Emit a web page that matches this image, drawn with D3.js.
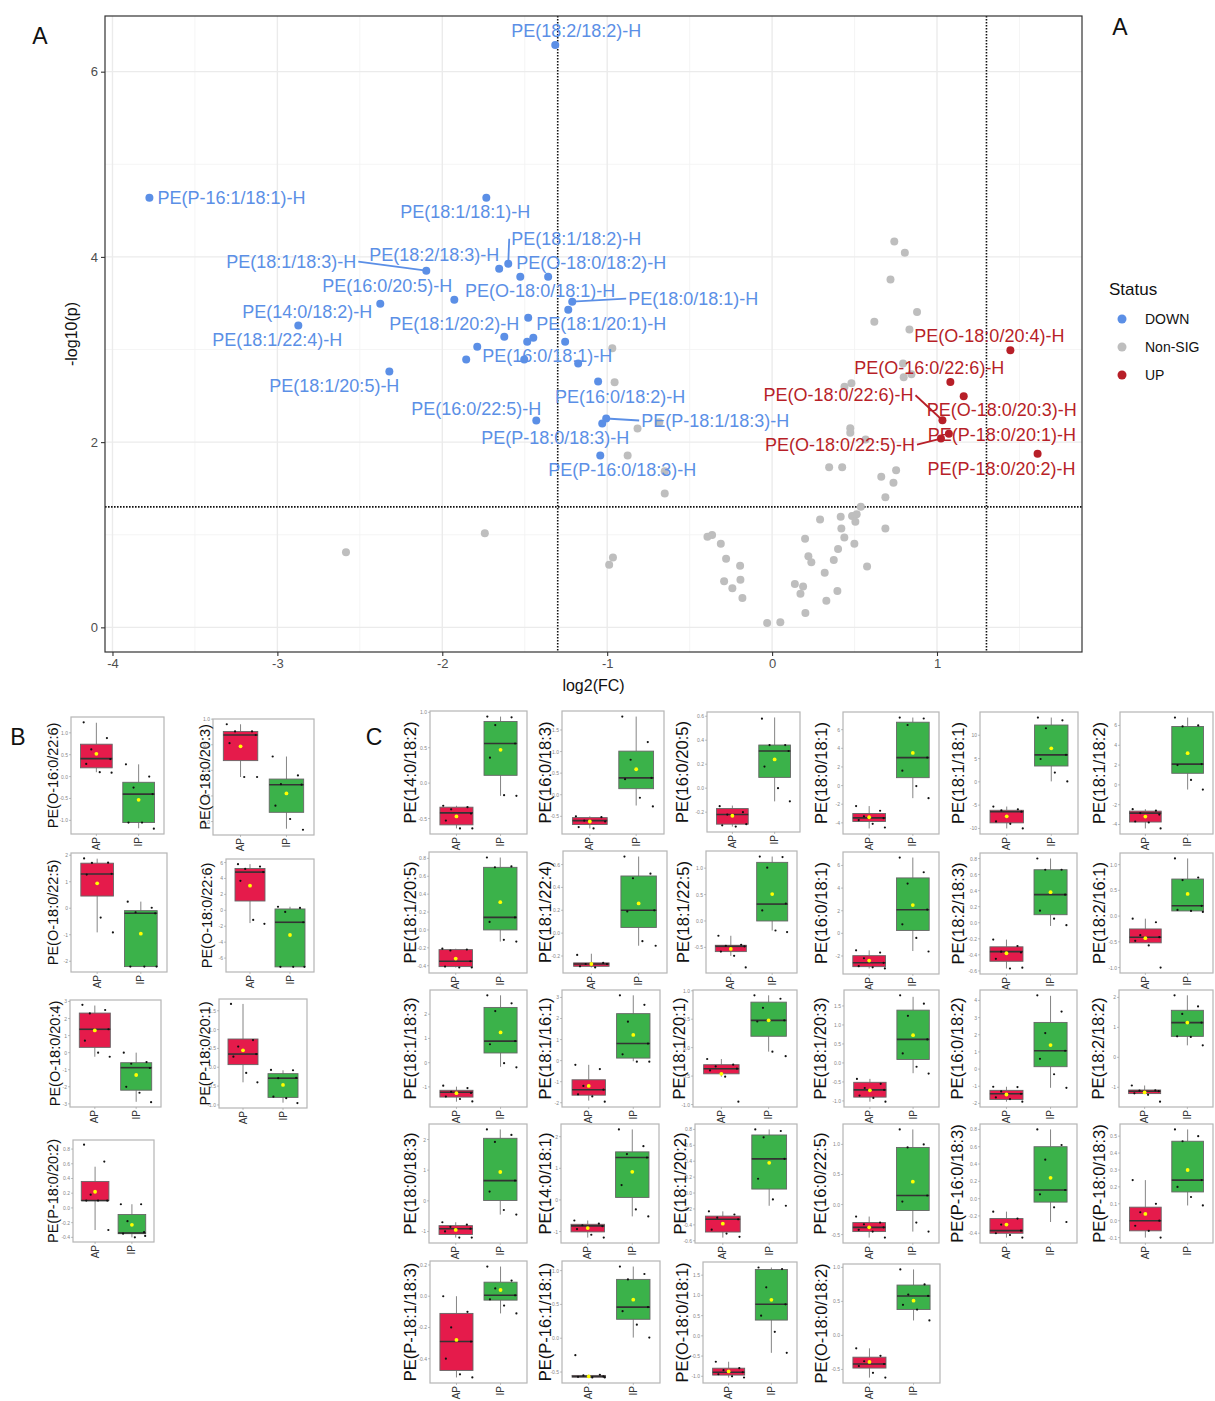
<!DOCTYPE html>
<html lang="en">
<head>
<meta charset="UTF-8">
<title>Volcano plot and lipid box plots</title>
<script src="https://d3js.org/d3.v7.min.js"></script>
<style>
  body { margin: 0; background: #fff; }
  svg { font-family: "Liberation Sans", Arial, sans-serif; }
</style>
</head>
<body>
<svg width="1215" height="1401"></svg>
<script>
// ---------- volcano data ----------
const downNames = ["PE(P-16:1/18:1)-H", "PE(18:2/18:2)-H", "PE(18:1/18:1)-H", "PE(18:1/18:2)-H",
  "PE(18:2/18:3)-H", "PE(O-18:0/18:2)-H", "PE(O-18:0/18:1)-H", "PE(18:1/18:3)-H", "PE(16:0/20:5)-H",
  "PE(14:0/18:2)-H", "PE(18:1/22:4)-H", "PE(18:0/18:1)-H", "PE(18:1/20:1)-H", "PE(18:1/20:2)-H",
  "", "", "", "", "", "", "PE(16:0/18:1)-H", "", "PE(18:1/20:5)-H", "PE(16:0/18:2)-H",
  "PE(16:0/22:5)-H", "PE(P-18:1/18:3)-H", "PE(P-18:0/18:3)-H", "PE(P-16:0/18:3)-H"];
const downFC = [-3.776, -1.315, -1.733, -1.600, -1.655, -1.527, -1.358, -2.097, -1.927, -2.376,
  -2.873, -1.212, -1.236, -1.479, -1.624, -1.485, -1.448, -1.255, -1.788, -1.855, -1.503, -1.176,
  -2.321, -1.055, -1.430, -1.006, -1.030, -1.042];
const downP = [4.639, 6.289, 4.639, 3.927, 3.873, 3.786, 3.786, 3.851, 3.538, 3.495, 3.258, 3.517,
  3.430, 3.344, 3.139, 3.085, 3.128, 3.085, 3.031, 2.891, 2.891, 2.848, 2.762, 2.654, 2.233, 2.255,
  2.201, 1.855];

const upNames = ["PE(O-18:0/20:4)-H", "PE(O-16:0/22:6)-H", "PE(O-18:0/20:3)-H", "PE(O-18:0/22:6)-H",
  "PE(P-18:0/20:1)-H", "PE(O-18:0/22:5)-H", "PE(P-18:0/20:2)-H"];
const upFC = [1.445, 1.081, 1.162, 1.033, 1.072, 1.024, 1.610];
const upP = [2.991, 2.650, 2.495, 2.236, 2.090, 2.039, 1.874];

const nonFC = [0.741, 0.805, 0.718, 0.879, 0.620, 0.833, -0.969, -0.955, 0.794, 0.798, 0.845, 0.439,
  0.481, -0.684, -0.816, 0.474, 0.474, 0.567, -0.876, 0.346, 0.425, 0.752, 0.662, 0.736, -0.651,
  -0.651, 0.687, 0.538, 0.291, 0.416, 0.485, 0.513, 0.505, 0.687, 0.420, 0.200, 0.438, 0.499,
  -0.392, -0.364, -0.311, 0.400, 0.220, 0.238, -0.279, -0.194, 0.374, 0.576, 0.319, -0.291, -0.192,
  0.138, 0.188, 0.172, -0.241, 0.396, -0.180, 0.329, 0.202, -0.030, 0.050, -1.742, -2.584, -0.965,
  -0.988];
const nonP = [4.167, 4.045, 3.757, 3.406, 3.301, 3.215, 3.013, 2.646, 2.848, 2.700, 2.732, 2.597,
  2.635, 2.215, 2.147, 2.150, 2.100, 2.028, 1.855, 1.729, 1.729, 1.697, 1.626, 1.561, 1.686, 1.446,
  1.406, 1.302, 1.165, 1.194, 1.201, 1.222, 1.140, 1.068, 1.068, 0.957, 0.971, 0.903, 0.978, 0.996,
  0.903, 0.845, 0.769, 0.704, 0.741, 0.666, 0.726, 0.658, 0.590, 0.499, 0.515, 0.467, 0.442, 0.364,
  0.421, 0.392, 0.316, 0.288, 0.154, 0.046, 0.054, 1.017, 0.812, 0.755, 0.676];

const xTicks = [-4, -3, -2, -1, 0, 1];
const yTicks = [0, 2, 4, 6];
const fcCut = 1.3;
const pCut = 1.301;

const statusNames = ["DOWN", "Non-SIG", "UP"];

// label placement (ggrepel result), pixel shift from the point to the label centre
const labelShift = {
  "PE(P-16:1/18:1)-H": [82, 0], "PE(18:2/18:2)-H": [21, -14], "PE(18:1/18:1)-H": [-21, 14],
  "PE(18:1/18:2)-H": [68, -25], "PE(18:2/18:3)-H": [-65, -14], "PE(O-18:0/18:2)-H": [71, -14],
  "PE(O-18:0/18:1)-H": [-8, 14], "PE(18:1/18:3)-H": [-135, -9], "PE(16:0/20:5)-H": [-67, -14],
  "PE(14:0/18:2)-H": [-73, 8], "PE(18:1/22:4)-H": [-21, 14], "PE(18:0/18:1)-H": [121, -3],
  "PE(18:1/20:1)-H": [33, 14], "PE(18:1/20:2)-H": [-74, 6], "PE(16:0/18:1)-H": [23, -4],
  "PE(18:1/20:5)-H": [-55, 14], "PE(16:0/18:2)-H": [22, 15], "PE(16:0/22:5)-H": [-60, -12],
  "PE(P-18:1/18:3)-H": [109, 2], "PE(P-18:0/18:3)-H": [-47, 14], "PE(P-16:0/18:3)-H": [22, 14],
  "PE(O-18:0/20:4)-H": [-21, -14], "PE(O-16:0/22:6)-H": [-21, -14], "PE(O-18:0/20:3)-H": [38, 14],
  "PE(O-18:0/22:6)-H": [-104, -25], "PE(P-18:0/20:1)-H": [53, 1], "PE(O-18:0/22:5)-H": [-101, 6],
  "PE(P-18:0/20:2)-H": [-36, 15]
};

// ---------- box plot data ----------
const boxNames = ["PE(O-16:0/22:6)", "PE(O-18:0/20:3)", "PE(O-18:0/22:5)", "PE(O-18:0/22:6)",
  "PE(O-18:0/20:4)", "PE(P-18:0/20:1)", "PE(P-18:0/20:2)",
  "PE(14:0/18:2)", "PE(16:0/18:3)", "PE(16:0/20:5)", "PE(18:0/18:1)", "PE(18:1/18:1)", "PE(18:1/18:2)",
  "PE(18:1/20:5)", "PE(18:1/22:4)", "PE(18:1/22:5)", "PE(16:0/18:1)", "PE(18:2/18:3)", "PE(18:2/16:1)",
  "PE(18:1/18:3)", "PE(18:1/16:1)", "PE(18:1/20:1)", "PE(18:1/20:3)", "PE(16:0/18:2)", "PE(18:2/18:2)",
  "PE(18:0/18:3)", "PE(14:0/18:1)", "PE(18:1/20:2)", "PE(16:0/22:5)", "PE(P-16:0/18:3)", "PE(P-18:0/18:3)",
  "PE(P-18:1/18:3)", "PE(P-16:1/18:1)", "PE(O-18:0/18:1)", "PE(O-18:0/18:2)"];
const groups = ["AP", "IP"];

// [lower whisker, q1, median, q3, upper whisker, mean]
const apStats = [
  [0.10, 0.20, 0.41, 0.74, 1.23, 0.52], [-0.13, 0.19, 0.69, 0.76, 0.90, 0.47],
  [-0.91, 0.46, 1.29, 1.70, 1.87, 0.94], [-1.6, 1.17, 4.8, 5.25, 5.8, 3.1],
  [-0.24, 0.31, 1.37, 2.32, 2.76, 1.3], [-0.40, 0.07, 0.35, 0.75, 1.68, 0.45],
  [-0.30, 0.10, 0.10, 0.36, 0.56, 0.22],
  [-0.64, -0.59, -0.42, -0.34, -0.32, -0.47], [-0.78, -0.69, -0.60, -0.53, -0.50, -0.62],
  [-0.32, -0.30, -0.22, -0.17, -0.145, -0.23], [-4.6, -3.85, -3.47, -3.0, -2.2, -3.4],
  [-10, -8.8, -6.4, -6.1, -5.3, -7.4], [-4.4, -3.75, -2.85, -2.65, -2.45, -3.2],
  [-0.42, -0.41, -0.35, -0.22, -0.21, -0.32], [-0.30, -0.29, -0.27, -0.26, -0.18, -0.27],
  [-0.66, -0.58, -0.48, -0.46, -0.28, -0.53], [-3.1, -2.94, -2.59, -1.97, -1.5, -2.4],
  [-0.57, -0.48, -0.36, -0.30, -0.21, -0.38], [-0.52, -0.52, -0.41, -0.25, -0.05, -0.43],
  [-1.61, -1.42, -1.22, -1.14, -0.99, -1.26], [-1.9, -1.64, -1.38, -0.91, -0.2, -1.2],
  [-0.51, -0.46, -0.37, -0.30, -0.20, -0.46], [-1.02, -0.90, -0.71, -0.51, -0.42, -0.72],
  [-1.9, -1.77, -1.44, -1.24, -1.03, -1.48], [-1.21, -1.21, -1.13, -1.09, -0.94, -1.17],
  [-1.2, -1.10, -0.91, -0.81, -0.70, -0.95], [-1.19, -1.01, -0.82, -0.77, -0.65, -0.89],
  [-0.56, -0.49, -0.33, -0.29, -0.23, -0.385], [-0.55, -0.45, -0.38, -0.30, -0.20, -0.38],
  [-0.45, -0.40, -0.37, -0.23, -0.15, -0.3], [-0.10, -0.06, 0.0, 0.08, 0.24, 0.04],
  [-0.52, -0.475, -0.29, -0.11, 0.0, -0.28], [-0.58, -0.575, -0.565, -0.55, -0.54, -0.565],
  [-1.03, -0.97, -0.9, -0.8, -0.64, -0.88], [-0.62, -0.48, -0.42, -0.32, -0.19, -0.39]
];
const ipStats = [
  [-1.18, -1.05, -0.40, -0.13, 0.28, -0.53], [-1.14, -0.82, -0.28, -0.17, 0.27, -0.45],
  [-2.2, -2.2, -0.19, -0.09, 0.25, -0.96], [-7.1, -7.1, -1.5, 0.17, 0.45, -3.1],
  [-2.88, -2.2, -0.88, -0.59, 0.0, -1.31], [-0.94, -0.80, -0.29, -0.17, -0.08, -0.47],
  [-0.40, -0.35, -0.34, -0.09, 0.05, -0.23],
  [-0.18, 0.11, 0.56, 0.87, 0.94, 0.47], [-0.25, 0.14, 0.39, 1.01, 1.81, 0.59],
  [-0.11, 0.09, 0.31, 0.36, 0.59, 0.24], [-1.35, 0.85, 3.0, 6.8, 7.3, 3.5],
  [0.1, 3.4, 5.8, 12.2, 13.8, 7.2], [-0.47, 1.17, 2.1, 5.9, 6.8, 3.2],
  [-0.13, 0.0, 0.14, 0.70, 0.81, 0.31], [-0.11, 0.05, 0.20, 0.50, 0.67, 0.26],
  [-0.18, 0.0, 0.32, 1.11, 1.22, 0.51], [-1.56, 0.26, 2.09, 4.9, 6.7, 2.5],
  [-0.04, 0.10, 0.35, 0.66, 0.80, 0.38], [0.10, 0.10, 0.20, 0.72, 1.12, 0.43],
  [-0.17, 0.40, 0.89, 2.28, 2.78, 1.25], [-0.03, 0.12, 0.81, 2.23, 3.1, 1.22],
  [-0.07, 0.20, 0.48, 0.80, 0.92, 0.48], [-0.27, 0.09, 0.62, 1.39, 1.74, 0.73],
  [-1.09, 0.14, 1.07, 2.72, 4.27, 1.4], [0.4, 0.70, 1.16, 1.57, 2.07, 1.16],
  [-0.45, 0.01, 0.66, 2.04, 2.33, 0.94], [-0.52, 0.08, 1.34, 1.52, 2.23, 0.89],
  [-0.16, 0.05, 0.43, 0.73, 0.80, 0.38], [-0.45, -0.10, 0.15, 0.95, 1.25, 0.38],
  [-0.27, -0.04, 0.10, 0.60, 0.80, 0.24], [0.09, 0.17, 0.24, 0.47, 0.54, 0.30],
  [-0.11, -0.025, 0.006, 0.09, 0.19, 0.04], [0.01, 0.28, 0.46, 0.87, 1.06, 0.57],
  [-0.42, 0.39, 0.78, 1.64, 1.69, 0.89], [0.22, 0.38, 0.58, 0.74, 0.97, 0.51]
];
const apPoints = [
  [1.24, 0.88, 0.62, 0.40, 0.29, 0.10, 0.09], [0.90, 0.76, 0.76, 0.69, 0.53, -0.13, -0.13],
  [1.88, 1.72, 1.71, 1.30, 1.27, -0.35, -0.91], [5.8, 5.5, 5.2, 4.8, 3.7, -1.2, -1.7],
  [2.8, 2.5, 2.3, 1.37, 0.7, 0.0, -0.24], [1.68, 0.72, 0.55, 0.35, 0.28, -0.15, -0.4],
  [0.86, 0.63, 0.18, 0.10, 0.10, 0.10, -0.30],
  [-0.32, -0.34, -0.37, -0.43, -0.53, -0.64, -0.64], [-0.5, -0.52, -0.6, -0.62, -0.75, -0.78],
  [-0.15, -0.20, -0.22, -0.30, -0.31, -0.32], [-2.2, -2.7, -3.3, -3.5, -3.7, -4.1, -4.5],
  [-5.3, -5.9, -6.1, -6.4, -8.5, -9.0, -10], [-2.45, -2.6, -2.85, -3.0, -3.7, -3.8, -4.4],
  [-0.21, -0.22, -0.23, -0.35, -0.41, -0.42, -0.42], [-0.19, -0.26, -0.27, -0.27, -0.29, -0.30],
  [-0.28, -0.45, -0.47, -0.48, -0.58, -0.66, -0.88], [-1.5, -1.7, -2.2, -2.6, -2.9, -3.0, -3.1],
  [-0.21, -0.29, -0.36, -0.37, -0.45, -0.57, -0.56], [-0.05, -0.12, -0.37, -0.41, -0.48, -0.57, -1.0],
  [-0.95, -1.05, -1.2, -1.25, -1.4, -1.5, -1.6], [-0.2, -0.4, -1.2, -1.38, -1.6, -1.7, -1.95],
  [-0.2, -0.3, -0.33, -0.37, -0.4, -0.51, -0.95], [-0.42, -0.55, -0.66, -0.71, -0.86, -0.92, -1.02],
  [-1.03, -1.05, -1.3, -1.44, -1.65, -1.75, -1.9], [-0.94, -1.1, -1.11, -1.13, -1.2, -1.25, -1.48],
  [-0.7, -0.78, -0.85, -0.91, -1.0, -1.2, -1.2], [-0.65, -0.75, -0.8, -0.83, -0.92, -1.1, -1.19],
  [-0.23, -0.27, -0.31, -0.33, -0.46, -0.51, -0.55], [-0.2, -0.3, -0.33, -0.38, -0.42, -0.45, -0.55],
  [-0.15, -0.23, -0.3, -0.37, -0.4, -0.42, -0.45], [0.24, 0.1, 0.05, 0.0, -0.03, -0.06, -0.1],
  [0.0, -0.1, -0.2, -0.29, -0.4, -0.5, -0.52], [-0.25, -0.54, -0.55, -0.565, -0.57, -0.58, -0.58],
  [-0.64, -0.8, -0.85, -0.9, -0.95, -1.0, -1.03], [-0.19, -0.3, -0.38, -0.42, -0.45, -0.55, -0.62]
];
const ipPoints = [
  [0.28, 0.0, -0.25, -0.40, -1.05, -1.05, -1.19], [0.27, -0.10, -0.27, -0.28, -0.69, -0.95, -1.16],
  [0.25, 0.02, -0.15, -0.19, -2.2, -2.2, -2.2], [0.45, 0.3, -0.2, -1.5, -7.1, -7.1, -7.1],
  [0.0, -0.55, -0.65, -0.9, -2.0, -2.35, -2.9], [-0.07, -0.08, -0.29, -0.28, -0.78, -0.82, -0.95],
  [0.05, 0.05, -0.18, -0.33, -0.35, -0.40, -0.38],
  [0.94, 0.93, 0.82, 0.56, 0.36, -0.17, -0.18], [1.81, 1.22, 0.81, 0.39, 0.36, -0.07, -0.27],
  [0.58, 0.36, 0.36, 0.31, 0.18, 0.0, -0.11], [7.3, 7.2, 6.5, 3.0, 1.6, -0.05, -1.35],
  [13.8, 13.2, 11.5, 5.8, 4.9, 2.0, 0.1], [6.8, 6.0, 5.9, 2.1, 2.0, 0.5, -0.47],
  [0.81, 0.71, 0.70, 0.14, 0.09, -0.11, -0.13], [0.67, 0.52, 0.48, 0.20, 0.19, -0.07, -0.11],
  [1.22, 1.21, 1.01, 0.33, 0.20, -0.18, -0.21], [6.7, 5.4, 4.4, 2.1, 0.8, -0.4, -1.6],
  [0.80, 0.66, 0.66, 0.35, 0.15, 0.05, -0.03], [1.12, 0.75, 0.70, 0.20, 0.12, 0.10, 0.08],
  [2.78, 2.45, 2.13, 0.89, 0.76, -0.02, -0.19], [3.1, 2.65, 1.85, 0.81, 0.3, -0.05, -0.05],
  [0.92, 0.86, 0.70, 0.48, 0.46, -0.07, -0.15], [1.78, 1.56, 1.24, 0.62, 0.25, -0.1, -0.28],
  [4.3, 3.35, 2.1, 1.07, 0.6, -0.3, -1.09], [2.07, 1.7, 1.45, 1.16, 0.7, 0.68, 0.4],
  [2.33, 2.15, 1.92, 0.66, 0.3, -0.3, -0.45], [2.23, 1.7, 1.45, 1.34, 0.47, -0.3, -0.52],
  [0.8, 0.78, 0.7, 0.43, 0.18, -0.08, -0.16], [1.25, 1.0, 0.95, 0.15, 0.05, -0.3, -0.45],
  [0.8, 0.62, 0.45, 0.1, 0.05, -0.1, -0.27], [0.54, 0.5, 0.47, 0.24, 0.2, 0.14, 0.09],
  [0.19, 0.1, 0.05, 0.006, -0.02, -0.06, -0.11], [1.06, 0.95, 0.87, 0.46, 0.4, 0.2, 0.01],
  [1.69, 1.65, 1.2, 0.78, 0.5, 0.1, -0.42], [0.97, 0.75, 0.6, 0.58, 0.45, 0.38, 0.22]
];

// panel rectangles of the small plots: [left, top, right, bottom, title x]
const boxLayout = [
  [71, 717, 164, 834, 53], [213, 719, 314, 835, 205], [71, 853, 167, 972, 53], [226, 859, 314, 972, 207],
  [70, 1000, 161, 1107, 55], [219, 999, 307, 1108, 205], [73, 1140, 154, 1242, 53],
  [430, 711, 527, 834, 410], [562, 711, 664, 834, 545], [707, 712, 800, 832, 682],
  [843, 712, 939, 834, 821], [980, 712, 1078, 834, 958], [1120, 712, 1213, 834, 1099],
  [429, 852, 527, 973, 410], [563, 851, 667, 973, 545], [706, 851, 797, 973, 683],
  [843, 852, 939, 974, 821], [980, 853, 1077, 974, 958], [1120, 853, 1213, 973, 1099],
  [430, 990, 527, 1107, 410], [562, 990, 660, 1107, 545], [693, 990, 797, 1107, 679],
  [844, 990, 939, 1107, 820], [980, 990, 1077, 1107, 957], [1119, 990, 1213, 1107, 1098],
  [429, 1124, 527, 1243, 410], [561, 1124, 659, 1243, 545], [695, 1124, 797, 1243, 680],
  [843, 1124, 939, 1243, 820], [980, 1124, 1077, 1243, 957], [1120, 1124, 1213, 1243, 1099],
  [430, 1261, 527, 1383, 410], [562, 1261, 660, 1383, 545], [703, 1262, 797, 1383, 682],
  [843, 1264, 940, 1383, 821]
];

const colors = { DOWN: "#5B8FE6", "Non-SIG": "#BEBEBE", UP: "#B71F28" };
const boxFill = { AP: "#E51B4B", IP: "#3BB24A" };
const jitter = [-0.3, 0.25, -0.12, 0.33, -0.24, 0.08, 0.36];

const svg = d3.select("svg");

function padExtent(vals, f = 0.05) {
  const [a, b] = d3.extent(vals);
  const p = (b - a) * f;
  return [a - p, b + p];
}

// ---------- panel A: volcano ----------
const vp = { left: 105, right: 1082, top: 16, bottom: 652 };
const x = d3.scaleLinear().domain(padExtent([...downFC, ...nonFC, ...upFC])).range([vp.left, vp.right]);
const y = d3.scaleLinear().domain(padExtent([...downP, ...nonP, ...upP])).range([vp.bottom, vp.top]);

const vg = svg.append("g");
const xMinor = d3.range(-3.5, 2, 1).filter(v => v > x.domain()[0] && v < x.domain()[1]);
const yMinor = [1, 3, 5];

vg.selectAll(".gx-minor").data(xMinor).join("line")
  .attr("x1", d => x(d)).attr("x2", d => x(d)).attr("y1", vp.top).attr("y2", vp.bottom)
  .attr("stroke", "#F2F2F2").attr("stroke-width", 0.8);
vg.selectAll(".gy-minor").data(yMinor).join("line")
  .attr("y1", d => y(d)).attr("y2", d => y(d)).attr("x1", vp.left).attr("x2", vp.right)
  .attr("stroke", "#F2F2F2").attr("stroke-width", 0.8);
vg.selectAll(".gx").data(xTicks).join("line")
  .attr("x1", d => x(d)).attr("x2", d => x(d)).attr("y1", vp.top).attr("y2", vp.bottom)
  .attr("stroke", "#EBEBEB").attr("stroke-width", 1.4);
vg.selectAll(".gy").data(yTicks).join("line")
  .attr("y1", d => y(d)).attr("y2", d => y(d)).attr("x1", vp.left).attr("x2", vp.right)
  .attr("stroke", "#EBEBEB").attr("stroke-width", 1.4);

// threshold lines
[-fcCut, fcCut].forEach(v => {
  vg.append("line").attr("x1", x(v)).attr("x2", x(v)).attr("y1", vp.top).attr("y2", vp.bottom)
    .attr("stroke", "#111").attr("stroke-width", 1.6).attr("stroke-dasharray", "1.6,1.4");
});
vg.append("line").attr("x1", vp.left).attr("x2", vp.right).attr("y1", y(pCut)).attr("y2", y(pCut))
  .attr("stroke", "#111").attr("stroke-width", 1.6).attr("stroke-dasharray", "1.6,1.4");

// axes
const xAxis = vg.append("g").attr("transform", `translate(0,${vp.bottom})`)
  .call(d3.axisBottom(x).tickValues(xTicks).tickSize(4).tickPadding(3).tickFormat(d3.format("d")));
const yAxis = vg.append("g").attr("transform", `translate(${vp.left},0)`)
  .call(d3.axisLeft(y).tickValues(yTicks).tickSize(4).tickPadding(3).tickFormat(d3.format("d")));
[xAxis, yAxis].forEach(a => {
  a.select(".domain").remove();
  a.selectAll(".tick line").attr("stroke", "#333").attr("stroke-width", 1.1);
  a.selectAll(".tick text").attr("fill", "#4D4D4D").style("font-size", "13px")
    .style("font-family", "Liberation Sans, Arial, sans-serif")
    .text(function () { return this.textContent.replace("\u2212", "-"); });
});

vg.append("rect").attr("x", vp.left).attr("y", vp.top)
  .attr("width", vp.right - vp.left).attr("height", vp.bottom - vp.top)
  .attr("fill", "none").attr("stroke", "#333").attr("stroke-width", 1.2);

vg.append("text").attr("x", (vp.left + vp.right) / 2).attr("y", 691).attr("text-anchor", "middle")
  .style("font-size", "16px").attr("fill", "#111").text("log2(FC)");
vg.append("text").attr("transform", `translate(77,${(vp.top + vp.bottom) / 2}) rotate(-90)`)
  .attr("text-anchor", "middle").style("font-size", "16px").attr("fill", "#111").text("-log10(p)");

// points
const sets = [
  { status: "Non-SIG", fc: nonFC, p: nonP, names: [] },
  { status: "DOWN", fc: downFC, p: downP, names: downNames },
  { status: "UP", fc: upFC, p: upP, names: upNames }
];
sets.forEach(s => {
  vg.append("g").selectAll("circle").data(s.fc).join("circle")
    .attr("cx", d => x(d)).attr("cy", (d, i) => y(s.p[i])).attr("r", 4)
    .attr("fill", colors[s.status]);
});

// repelled labels: a segment is drawn when the label box is far from its point,
// ending at the nearest mid-point of the box edges
const labelLayer = vg.append("g");
sets.forEach(s => {
  s.names.forEach((name, i) => {
    if (!name) return;
    const px = x(s.fc[i]), py = y(s.p[i]);
    const [dx, dy] = labelShift[name];
    const cx = px + dx, cy = py + dy;
    const t = labelLayer.append("text").attr("x", cx).attr("y", cy)
      .attr("text-anchor", "middle").attr("dominant-baseline", "central")
      .style("font-size", "18px").attr("fill", colors[s.status]).text(name);
    const hw = t.node().getComputedTextLength() / 2 + 2, hh = 10;
    const nx = Math.max(cx - hw, Math.min(px, cx + hw));
    const ny = Math.max(cy - hh, Math.min(py, cy + hh));
    if (Math.hypot(nx - px, ny - py) > 10) {
      const mids = [[cx - hw, cy], [cx + hw, cy], [cx, cy - hh], [cx, cy + hh]];
      const end = d3.least(mids, m => Math.hypot(m[0] - px, m[1] - py));
      labelLayer.insert("line", "text").attr("x1", px).attr("y1", py).attr("x2", end[0]).attr("y2", end[1])
        .attr("stroke", colors[s.status]).attr("stroke-width", 1.8);
    }
  });
});

// legend
const lg = svg.append("g");
lg.append("text").attr("x", 1109).attr("y", 295).style("font-size", "17px").attr("fill", "#111").text("Status");
statusNames.forEach((st, i) => {
  const ly = 319 + i * 28;
  lg.append("circle").attr("cx", 1122).attr("cy", ly).attr("r", 4.5).attr("fill", colors[st]);
  lg.append("text").attr("x", 1145).attr("y", ly).attr("dominant-baseline", "central")
    .style("font-size", "14px").attr("fill", "#111").text(st);
});

// panel letters
[["A", 40, 36], ["A", 1120, 27], ["B", 18, 737], ["C", 374, 737]].forEach(([s, lx, ly]) => {
  svg.append("text").attr("x", lx).attr("y", ly).attr("text-anchor", "middle")
    .attr("dominant-baseline", "central").style("font-size", "23px").attr("fill", "#111").text(s);
});

// ---------- panels B and C: box plots ----------
function drawBoxPlot(k) {
  const [l, t, r, b, tx] = boxLayout[k];
  const stats = { AP: apStats[k], IP: ipStats[k] };
  const pts = { AP: apPoints[k], IP: ipPoints[k] };
  const yS = d3.scaleLinear()
    .domain(padExtent([...apStats[k], ...ipStats[k], ...apPoints[k], ...ipPoints[k]]))
    .range([b, t]);
  const xS = d3.scaleLinear().domain([0.4, 2.6]).range([l, r]);
  const g = svg.append("g");

  g.append("rect").attr("x", l).attr("y", t).attr("width", r - l).attr("height", b - t)
    .attr("fill", "#fff").attr("stroke", "#B5B5B5").attr("stroke-width", 1.2);

  const ticks = yS.ticks(5);
  const fmt = yS.tickFormat(5);
  g.selectAll(".yt").data(ticks).join("line")
    .attr("x1", l - 2).attr("x2", l).attr("y1", d => yS(d)).attr("y2", d => yS(d))
    .attr("stroke", "#999").attr("stroke-width", 0.6);
  g.selectAll(".ytl").data(ticks).join("text")
    .attr("x", l - 3).attr("y", d => yS(d)).attr("text-anchor", "end").attr("dominant-baseline", "central")
    .style("font-size", "5px").attr("fill", "#888").text(d => fmt(d).replace("\u2212", "-"));

  groups.forEach((grp, gi) => {
    const c = gi + 1;
    const [lo, q1, med, q3, hi, mean] = stats[grp];
    const cx = xS(c);
    g.append("line").attr("x1", cx).attr("x2", cx).attr("y1", yS(hi)).attr("y2", yS(q3))
      .attr("stroke", "#777").attr("stroke-width", 0.9);
    g.append("line").attr("x1", cx).attr("x2", cx).attr("y1", yS(q1)).attr("y2", yS(lo))
      .attr("stroke", "#777").attr("stroke-width", 0.9);
    g.append("rect").attr("x", xS(c - 0.375)).attr("y", yS(q3))
      .attr("width", xS(c + 0.375) - xS(c - 0.375)).attr("height", Math.max(1, yS(q1) - yS(q3)))
      .attr("fill", boxFill[grp]).attr("stroke", "#666").attr("stroke-width", 0.9);
    g.append("line").attr("x1", xS(c - 0.375)).attr("x2", xS(c + 0.375))
      .attr("y1", yS(med)).attr("y2", yS(med)).attr("stroke", "#333").attr("stroke-width", 1.6);
    g.selectAll(null).data(pts[grp]).join("circle")
      .attr("cx", (d, i) => xS(c + jitter[i % jitter.length])).attr("cy", d => yS(d))
      .attr("r", 1.1).attr("fill", "#111");
    g.append("circle").attr("cx", cx).attr("cy", yS(mean)).attr("r", 1.9).attr("fill", "#FFFF00");
    g.append("line").attr("x1", cx).attr("x2", cx).attr("y1", b).attr("y2", b + 2)
      .attr("stroke", "#999").attr("stroke-width", 0.6);
    g.append("text").attr("transform", `translate(${cx},${b + 3}) rotate(-90)`)
      .attr("text-anchor", "end").attr("dominant-baseline", "central")
      .style("font-size", "10px").attr("fill", "#333").text(grp);
  });

  const fs = k < 7 ? 14.5 : 16.5;
  g.append("text").attr("transform", `translate(${tx},${(t + b) / 2}) rotate(-90)`)
    .attr("text-anchor", "middle").attr("dominant-baseline", "central")
    .style("font-size", fs + "px").attr("fill", "#111").text(boxNames[k]);
}

boxNames.forEach((n, k) => drawBoxPlot(k));
</script>
</body>
</html>
